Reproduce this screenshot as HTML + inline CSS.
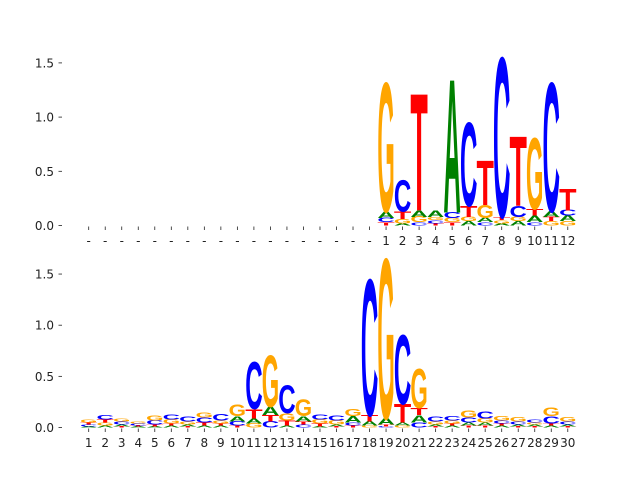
<!DOCTYPE html>
<html><head><meta charset="utf-8"><style>
body{margin:0;background:#fff}
svg text.lbl{font-family:"DejaVu Sans","Liberation Sans",sans-serif;font-size:12px;fill:#222}
</style></head><body>
<svg id="chart" width="640" height="480" viewBox="0 0 640 480" xmlns="http://www.w3.org/2000/svg"></svg>
<script>
const letters = ["A","C","G","T"];
const topPositions = [19,20,21,22,23,24,25,26,27,28,29,30];
const topLabels = ["1","2","3","4","5","6","7","8","9","10","11","12"];
const topA = [0.06,0.02,0.06,0.06,1.22,0.04,0.04,0.02,0.04,0.06,0.05,0.05];
const topC = [0.04,0.29,0.03,0.03,0.05,0.76,0.03,1.46,0.10,0.03,1.18,0.05];
const topG = [1.18,0.04,0.05,0.03,0.04,0.04,0.12,0.03,0.04,0.65,0.04,0.04];
const topT = [0.03,0.07,1.07,0.02,0.03,0.10,0.41,0.03,0.64,0.06,0.04,0.20];
const botA = [0.01,0.02,0.02,0.01,0.01,0.02,0.02,0.02,0.02,0.05,0.05,0.08,0.02,0.05,0.01,0.02,0.06,0.04,0.06,0.03,0.07,0.02,0.02,0.03,0.03,0.02,0.02,0.02,0.02,0.02];
const botC = [0.02,0.04,0.03,0.02,0.04,0.05,0.05,0.05,0.06,0.04,0.46,0.06,0.27,0.03,0.05,0.05,0.03,1.32,0.01,0.67,0.05,0.05,0.04,0.05,0.07,0.03,0.03,0.03,0.07,0.03];
const botG = [0.03,0.03,0.03,0.02,0.05,0.04,0.03,0.05,0.03,0.11,0.04,0.50,0.07,0.16,0.04,0.04,0.07,0.02,1.55,0.02,0.38,0.03,0.03,0.07,0.04,0.04,0.04,0.02,0.08,0.04];
const botT = [0.02,0.03,0.01,0.01,0.02,0.02,0.01,0.03,0.02,0.02,0.09,0.06,0.05,0.03,0.03,0.01,0.02,0.06,0.02,0.18,0.07,0.01,0.02,0.02,0.02,0.02,0.01,0.01,0.02,0.01];
const yTicks = [0, 0.5, 1.0, 1.5];
const yTickLabels = ["0.0","0.5","1.0","1.5"];
const colors = {A:"#008000",C:"#0000ff",G:"#ffa500",T:"#ff0000"};
const NS = "http://www.w3.org/2000/svg";
const svg = document.getElementById("chart");

function xPos(p){ return 88.7 + (p-1)*16.52; }

function panel(name, y0, unit, pos, A, C, G, T, labels, blankCount){
  const g = document.createElementNS(NS,"g");
  
  
  svg.appendChild(g);
  const yS = v => y0 - v*unit;
  yTicks.forEach((t,i)=>{
    const ln = document.createElementNS(NS,"line");
    
    
    ln.setAttribute("x1",58.5);ln.setAttribute("x2",62);
    ln.setAttribute("y1",yS(t));ln.setAttribute("y2",yS(t));
    ln.setAttribute("stroke","#222");ln.setAttribute("stroke-width","0.8");
    g.appendChild(ln);
    const tx = document.createElementNS(NS,"text");
    
    
    tx.setAttribute("class","lbl");tx.setAttribute("x",54);tx.setAttribute("y",yS(t)+4.5);
    tx.setAttribute("text-anchor","end");tx.textContent = yTickLabels[i];
    g.appendChild(tx);
  });
  for(let p=1;p<=30;p++){
    const x = xPos(p);
    const ln = document.createElementNS(NS,"line");
    
    
    ln.setAttribute("x1",x);ln.setAttribute("x2",x);
    ln.setAttribute("y1",y0+1);ln.setAttribute("y2",y0+4.5);
    ln.setAttribute("stroke","#222");ln.setAttribute("stroke-width","0.8");
    g.appendChild(ln);
    const tx = document.createElementNS(NS,"text");
    
    
    tx.setAttribute("class","lbl");tx.setAttribute("x",x);tx.setAttribute("y",y0+19.5);
    tx.setAttribute("text-anchor","middle");
    tx.textContent = p<=blankCount ? "-" : labels[p-1-blankCount];
    g.appendChild(tx);
  }
  pos.forEach((p,i)=>{
    const vals = [["A",A[i]],["C",C[i]],["G",G[i]],["T",T[i]]].sort((a,b)=>a[1]-b[1]);
    let base = 0;
    vals.forEach(([L,h])=>{
      const W = 17.4, x = xPos(p) - W/2;
      const yb = yS(base), hp = h*unit;
      const t = document.createElementNS(NS,"text");
      
      
      t.setAttribute("x",0);t.setAttribute("y",0);
      t.setAttribute("font-family","Liberation Sans, Arial, sans-serif");
      t.setAttribute("font-weight","bold");t.setAttribute("font-size","100");
      t.setAttribute("textLength","100");t.setAttribute("lengthAdjust","spacingAndGlyphs");
      t.setAttribute("fill",colors[L]);
      t.setAttribute("transform",`translate(${x},${yb}) scale(${W/100},${hp/69})`);
      t.textContent = L;
      g.appendChild(t);
      base += h;
    });
  });
}
const botPositions = Array.from({length:30},(_,i)=>i+1);
const botLabels = botPositions.map(String);
panel("top-logo-panel", 225.5, 108.4, topPositions, topA, topC, topG, topT, topLabels, 18);
panel("bottom-logo-panel", 427.5, 102.3, botPositions, botA, botC, botG, botT, botLabels, 0);
</script>
</body></html>
